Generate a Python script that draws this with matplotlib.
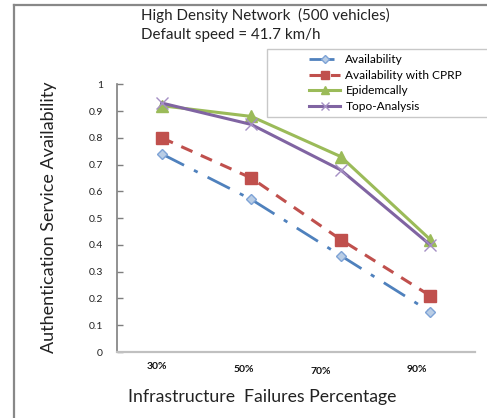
import matplotlib
matplotlib.use("Agg")
import matplotlib.pyplot as plt
from matplotlib.lines import Line2D
from matplotlib.patches import Rectangle

plt.rcParams['font.family'] = ['Lato', 'DejaVu Sans']

categories = ["30%", "50%", "70%", "90%"]
availability = [0.74, 0.57, 0.36, 0.15]
availability_cprp = [0.80, 0.65, 0.42, 0.21]
epidemcally = [0.92, 0.88, 0.73, 0.42]
topo_analysis = [0.93, 0.85, 0.68, 0.40]
y_ticks = [0, 0.1, 0.2, 0.3, 0.4, 0.5, 0.6, 0.7, 0.8, 0.9, 1]
y_tick_labels = ["0", "0.1", "0.2", "0.3", "0.4", "0.5", "0.6", "0.7", "0.8", "0.9", "1"]

W, H, DPI = 487, 418, 100
fig = plt.figure(figsize=(W / DPI, H / DPI), dpi=DPI)

# outer frame (left and top edges)
fig.add_artist(Line2D([14 / W, 14 / W], [0, 1 - 5 / H], transform=fig.transFigure,
                      color="#888888", lw=1.6))
fig.add_artist(Line2D([14 / W, 1], [1 - 5 / H, 1 - 5 / H], transform=fig.transFigure,
                      color="#888888", lw=1.6))

ax = fig.add_axes([117 / W, 1 - 352 / H, (475 - 117) / W, (352 - 84.3) / H])
x = list(range(len(categories)))

ax.plot(x, availability, color="#4F81BD", lw=2.0, dashes=(9, 4, 1.5, 4),
        marker="D", ms=5.5, mfc="#B9CDE5", mec="#7EA3D6", mew=1.0,
        label="Availability")
ax.plot(x, availability_cprp, color="#C0504D", lw=2.2, dashes=(4, 3),
        marker="s", ms=8, mfc="#C0504D", mec="#C0504D",
        label="Availability with CPRP")
ax.plot(x, epidemcally, color="#9BBB59", lw=2.2,
        marker="^", ms=8, mfc="#9BBB59", mec="#9BBB59",
        label="Epidemcally")
ax.plot(x, topo_analysis, color="#8064A2", lw=2.2,
        marker="x", ms=8, mew=1.0, mec="#A58FC4",
        label="Topo-Analysis")

ax.set_xlim(-0.5, len(categories) - 0.5)
ax.set_ylim(0, 1)
ax.set_yticks(y_ticks)
ax.set_yticklabels(y_tick_labels, fontsize=7.5, color="#222222")
ax.tick_params(axis="y", direction="in", length=4, width=1, color="#7F7F7F", pad=10)
ax.set_xticks([])

for side in ("top", "right"):
    ax.spines[side].set_visible(False)
ax.spines["left"].set_color("#7F7F7F")
ax.spines["left"].set_linewidth(1.2)
ax.spines["bottom"].set_color("#C0C0C0")
ax.spines["bottom"].set_linewidth(1.6)

# category labels under the axis
label_pos = [(-0.05, -0.056), (0.92, -0.064), (1.78, -0.071), (2.85, -0.064)]
for (px, py), lab in zip(label_pos, categories):
    ax.text(px, py, lab, transform=ax.get_xaxis_transform(), ha="center", va="center",
            fontsize=7.5, fontweight="bold", color="#111111")

fig.text(262 / W, 1 - 397 / H, "Infrastructure  Failures Percentage",
         ha="center", va="center", fontsize=12.7, color="#222222")
fig.text(49 / W, 1 - 217 / H, "Authentication Service Availability",
         ha="center", va="center", rotation=90, fontsize=13, color="#222222")
fig.text(141 / W, 1 - 15 / H, "High Density Network  (500 vehicles)",
         ha="left", va="center", fontsize=10.9, color="#222222")
fig.text(141 / W, 1 - 35 / H, "Default speed = 41.7 km/h",
         ha="left", va="center", fontsize=10.9, color="#222222")

# legend box running off the right edge
fig.add_artist(Rectangle((267 / W, 1 - 117 / H), (520 - 267) / W, (117 - 49) / H,
                         transform=fig.transFigure, facecolor="white",
                         edgecolor="#C8C8C8", lw=1.0, zorder=3))
leg = fig.legend(loc="center left", bbox_to_anchor=(309 / W, 1 - 83 / H),
                 bbox_transform=fig.transFigure, fontsize=8.6, frameon=False,
                 borderpad=0, labelspacing=0.38, markerscale=0.75,
                 handlelength=2.6, handletextpad=0.45, borderaxespad=0)
leg.set_zorder(4)

fig.savefig("out.png", dpi=DPI)
